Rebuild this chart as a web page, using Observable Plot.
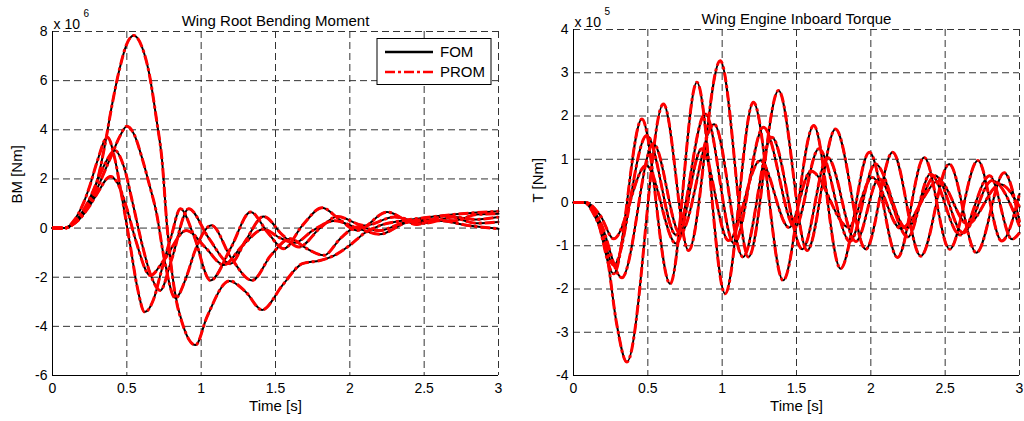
<!DOCTYPE html>
<html>
<head>
<meta charset="utf-8">
<script src="https://cdn.jsdelivr.net/npm/d3@7"></script>
<script src="https://cdn.jsdelivr.net/npm/@observablehq/plot@0.6"></script>
<style>
  html, body { margin: 0; padding: 0; background: #fff; }
  #wrap { display: flex; width: 1024px; height: 421px; overflow: hidden; }
  #wrap svg { display: block; }
</style>
</head>
<body>
<div id="wrap"></div>
<script>
// Axis ticks
const timeTicks = [0, 0.5, 1, 1.5, 2, 2.5, 3];
const bmTicks = [-6, -4, -2, 0, 2, 4, 6, 8];
const torqueTicks = [-4, -3, -2, -1, 0, 1, 2, 3, 4];

// Wing root bending moment, [time s, BM x 1e6 Nm], one array per gust case
const bmCase1 = [[0,0],[0.08,0],[0.15,0.25],[0.2,0.6],[0.25,1.1],[0.3,1.9],[0.35,3.3],[0.4,5.0],[0.45,6.45],[0.5,7.5],[0.547,7.84],[0.6,7.4],[0.65,6.3],[0.7,4.4],[0.737,2.75],[0.771,0.04],[0.82,-2.5],[0.88,-4.0],[0.962,-4.76],[1.04,-3.6],[1.19,-2.15],[1.3,-2.6],[1.41,-3.33],[1.55,-2.3],[1.68,-1.45],[1.8,-1.32],[1.9,-1.1],[2.0,-0.7],[2.1,-0.2],[2.2,0.1],[2.35,0.3],[2.5,0.42],[2.75,0.58],[3.0,0.68]];
const bmCase2 = [[0,0],[0.08,0],[0.15,0.2],[0.2,0.5],[0.25,1.0],[0.3,1.6],[0.35,2.3],[0.4,3.0],[0.45,3.7],[0.5,4.14],[0.55,3.8],[0.6,2.9],[0.65,1.8],[0.7,0.6],[0.75,-1.2],[0.826,-2.85],[0.9,-2.0],[0.96,-0.9],[1.07,0.11],[1.2,-1.2],[1.343,-2.13],[1.47,-1.1],[1.6,-0.43],[1.7,-0.8],[1.826,-1.11],[1.94,-0.4],[2.05,0.05],[2.2,-0.1],[2.35,0.2],[2.5,0.35],[2.7,0.3],[2.85,0.55],[3.0,0.58]];
const bmCase3 = [[0,0],[0.08,0],[0.15,0.35],[0.2,0.9],[0.25,1.7],[0.3,2.7],[0.37,3.7],[0.42,2.8],[0.46,1.5],[0.52,-0.6],[0.57,-2.4],[0.62,-3.42],[0.68,-2.9],[0.73,-1.8],[0.8,-0.3],[0.86,0.79],[0.95,-0.3],[1.062,-2.13],[1.2,-0.8],[1.332,0.65],[1.45,-0.2],[1.556,-0.84],[1.68,0.1],[1.814,0.83],[1.93,0.35],[2.05,-0.1],[2.25,0.65],[2.45,0.15],[2.65,0.5],[2.85,0.2],[3.0,0.25]];
const bmCase4 = [[0,0],[0.08,0],[0.15,0.25],[0.2,0.65],[0.25,1.2],[0.3,1.9],[0.36,2.7],[0.42,3.16],[0.48,2.5],[0.54,1.0],[0.6,-0.6],[0.66,-1.9],[0.725,-2.54],[0.8,-1.3],[0.916,0.79],[1.05,-0.4],[1.197,-1.45],[1.3,-0.5],[1.42,0.47],[1.55,-0.3],[1.657,-0.77],[1.8,0.0],[1.916,0.47],[2.1,0.1],[2.3,0.45],[2.5,0.2],[2.7,0.45],[2.85,0.35],[3.0,0.45]];
const bmCase5 = [[0,0],[0.08,0],[0.15,0.2],[0.2,0.5],[0.25,0.9],[0.3,1.4],[0.39,2.1],[0.44,1.8],[0.5,0.8],[0.56,-0.5],[0.658,-1.93],[0.75,-1.3],[0.9,-0.1],[1.03,-0.8],[1.15,-1.5],[1.28,-0.7],[1.42,-0.05],[1.53,-0.4],[1.63,-0.6],[1.75,-0.1],[1.9,0.3],[2.05,0.0],[2.2,-0.25],[2.4,0.25],[2.6,0.3],[2.8,0.1],[3.0,-0.03]];

// Wing engine inboard torque, [time s, T x 1e5 Nm], one array per gust case
const torqueCase1 = [[0,0],[0.07,0],[0.135,-0.26],[0.224,-1.2],[0.29,-2.8],[0.359,-3.69],[0.605,2.28],[0.774,-1.11],[0.987,3.28],[1.177,-1.26],[1.379,2.59],[1.572,-1.11],[1.762,1.70],[1.966,-1.08],[2.146,1.16],[2.336,-1.24],[2.527,0.89],[2.71,-1.16],[2.897,0.69],[3.0,-0.45]];
const torqueCase2 = [[0,0],[0.07,0],[0.15,-0.3],[0.27,-1.65],[0.46,1.93],[0.65,-1.88],[0.83,2.78],[1.02,-2.11],[1.21,2.32],[1.41,-1.8],[1.616,1.78],[1.796,-1.53],[1.99,1.16],[2.18,-1.27],[2.359,1.04],[2.53,-1.08],[2.72,0.97],[2.88,-0.89],[3.0,0.2]];
const torqueCase3 = [[0,0],[0.08,0],[0.17,-0.4],[0.27,-1.45],[0.493,1.55],[0.69,-0.75],[0.886,2.05],[1.08,-0.95],[1.278,1.74],[1.49,-0.57],[1.65,1.24],[1.86,-0.9],[2.03,0.89],[2.24,-0.6],[2.435,0.62],[2.62,-0.7],[2.816,0.51],[3.0,-0.55]];
const torqueCase4 = [[0,0],[0.08,0],[0.18,-0.45],[0.325,-1.74],[0.538,1.36],[0.717,-0.72],[0.946,1.81],[1.14,-1.26],[1.334,1.51],[1.54,-1.08],[1.709,1.04],[1.9,-0.9],[2.054,0.55],[2.25,-0.8],[2.40,0.66],[2.6,-0.75],[2.80,0.62],[2.95,-0.85],[3.0,-0.7]];
const torqueCase5 = [[0,0],[0.08,0],[0.18,-0.3],[0.27,-0.84],[0.49,0.86],[0.69,-0.95],[0.863,1.24],[1.043,-0.88],[1.256,0.97],[1.45,-0.58],[1.596,0.73],[1.85,-0.57],[2.01,0.58],[2.2,-0.6],[2.46,0.5],[2.65,-0.5],[2.87,0.42],[3.0,-0.1]];

const bmCases = [bmCase1, bmCase2, bmCase3, bmCase4, bmCase5];
const torqueCases = [torqueCase1, torqueCase2, torqueCase3, torqueCase4, torqueCase5];

const FONT = "'Liberation Sans', Arial, Helvetica, sans-serif";
const GRID = "#333333";
const PROM_DASH = "10,3,3,3";

function toRows(cases) {
  return cases.flatMap((pts, i) => pts.map(([t, v]) => ({id: i, t, v})));
}

function panel({cases, yDomain, yTicks, title, yLabel, power, margin}) {
  const rows = toRows(cases);
  const label = (txt, opts) => Plot.text([txt], {text: d => d, fill: "black", ...opts});
  return Plot.plot({
    width: 512,
    height: 421,
    ...margin,
    style: {fontFamily: FONT, fontSize: "14px", background: "white", color: "black", overflow: "visible"},
    x: {domain: [0, 3]},
    y: {domain: yDomain},
    marks: [
      Plot.gridX(timeTicks, {stroke: GRID, strokeOpacity: 1, strokeDasharray: "7,4"}),
      Plot.gridY(yTicks, {stroke: GRID, strokeOpacity: 1, strokeDasharray: "7,4"}),
      Plot.ruleX([0], {stroke: "black", strokeWidth: 1}),
      Plot.ruleY([yDomain[0]], {stroke: "black", strokeWidth: 1}),
      Plot.axisX({ticks: timeTicks, tickSize: 0, tickPadding: 8, tickFormat: d => String(d), label: null, fontSize: 14}),
      Plot.axisY({ticks: yTicks, tickSize: 0, tickPadding: 5, tickFormat: d => String(d), label: null, fontSize: 14}),
      // full-order model
      Plot.line(rows, {x: "t", y: "v", z: "id", stroke: "black", strokeWidth: 2, curve: "monotone-x"}),
      // parametric reduced-order model
      Plot.line(rows, {x: "t", y: "v", z: "id", stroke: "#ff0000", strokeWidth: 3, strokeDasharray: PROM_DASH, strokeLinecap: "butt", curve: "monotone-x"}),
      label(title, {frameAnchor: "top", dy: -16, fontSize: 15}),
      label("Time [s]", {frameAnchor: "bottom", dy: 35, fontSize: 15}),
      label(yLabel, {frameAnchor: "left", dx: -35, rotate: -90, fontSize: 15}),
      label("x 10", {frameAnchor: "top-left", textAnchor: "start", dx: 1, dy: -12, fontSize: 14}),
      label(power, {frameAnchor: "top-left", textAnchor: "start", dx: 31, dy: -22, fontSize: 10})
    ]
  });
}

const left = panel({
  cases: bmCases,
  yDomain: [-6, 8],
  yTicks: bmTicks,
  title: "Wing Root Bending Moment",
  yLabel: "BM [Nm]",
  power: "6",
  margin: {marginLeft: 52, marginRight: 14, marginTop: 31, marginBottom: 46}
});

const right = panel({
  cases: torqueCases,
  yDomain: [-4, 4],
  yTicks: torqueTicks,
  title: "Wing Engine Inboard Torque",
  yLabel: "T [Nm]",
  power: "5",
  margin: {marginLeft: 61, marginRight: 5, marginTop: 29, marginBottom: 46}
});

// Legend box in the upper right of the bending-moment panel
const lg = d3.select(left).append("g")
  .attr("font-family", FONT).attr("font-size", 15).attr("text-anchor", "start");
lg.append("rect").attr("x", 377).attr("y", 38.5).attr("width", 114).attr("height", 46)
  .attr("fill", "white").attr("stroke", "black").attr("stroke-width", 1);
lg.append("line").attr("x1", 385).attr("x2", 433).attr("y1", 52).attr("y2", 52)
  .attr("stroke", "black").attr("stroke-width", 2.4);
lg.append("line").attr("x1", 385).attr("x2", 433).attr("y1", 72).attr("y2", 72)
  .attr("stroke", "#ff0000").attr("stroke-width", 2.4).attr("stroke-dasharray", PROM_DASH);
lg.append("text").attr("x", 440).attr("y", 52).attr("dy", "0.35em").attr("fill", "black").text("FOM");
lg.append("text").attr("x", 440).attr("y", 72).attr("dy", "0.35em").attr("fill", "black").text("PROM");

document.getElementById("wrap").append(left, right);
</script>
</body>
</html>
